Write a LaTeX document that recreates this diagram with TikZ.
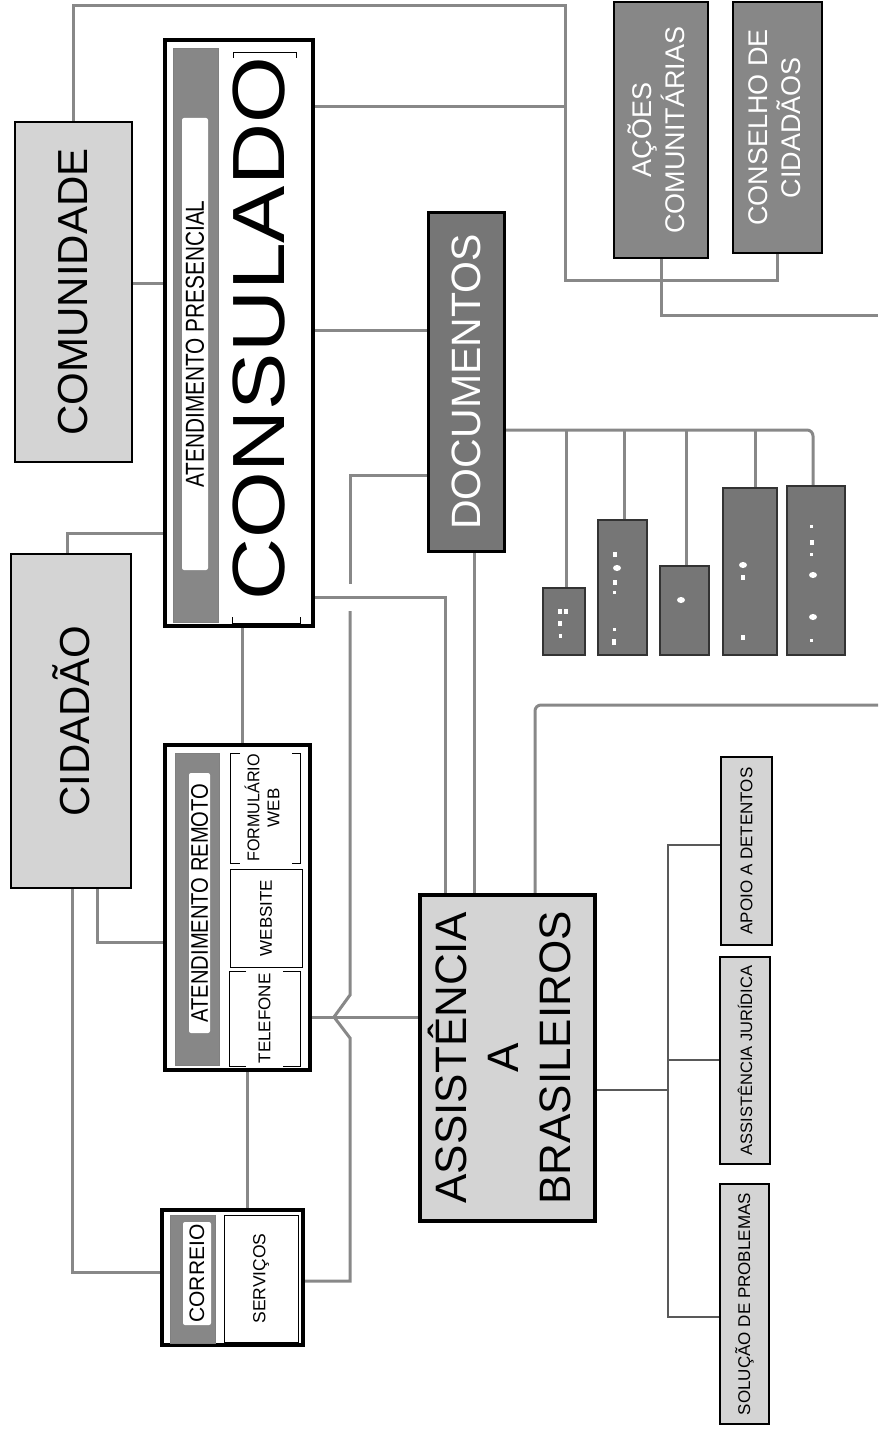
\documentclass[tikz,border=0pt]{standalone}
\usepackage{fontspec}
\setmainfont{Liberation Sans}
\pgfdeclarelayer{bg}
\pgfsetlayers{bg,main}
\definecolor{lightfill}{HTML}{D4D4D4}
\definecolor{darkfill}{HTML}{878787}
\definecolor{docfill}{HTML}{767676}
\definecolor{conncol}{HTML}{888888}
\newcommand{\fsz}[2]{\fontsize{#1}{#2}\selectfont}
\newcommand{\rtext}[1]{\rotatebox{90}{#1}}
\newcommand{\rtwo}[2]{\rotatebox{90}{\begin{tabular}{@{}c@{}}#1\\#2\end{tabular}}}
\begin{document}
\begin{tikzpicture}[x=1pt,y=-1pt,
  nbox/.style={anchor=north west, inner sep=0pt, outer sep=0pt, align=center},
  lightbox/.style={nbox, draw=black, line width=1.2pt, fill=lightfill},
  darkbox/.style={nbox, draw=black, line width=2pt, fill=darkfill, text=white},
  docbox/.style={nbox, draw=black!80, line width=1.2pt, fill=docfill},
  bigframe/.style={nbox, draw=black, line width=4.5pt, fill=white},
  stripbox/.style={nbox, fill=darkfill, draw=black!50, line width=0.6pt},
  whitebar/.style={nbox, fill=white, rounded corners=2pt},
  thinbox/.style={nbox, draw=black, line width=0.9pt, fill=white},
  conn/.style={draw=conncol, line width=3pt},
  thinconn/.style={draw=black!65, line width=2pt},
  brk/.style={draw=black, line width=0.9pt},
  spot/.style={fill=white}
]
\useasboundingbox (0,0) rectangle (878,1431);

% ---------- left column ----------
\node[lightbox, minimum width=117pt, minimum height=340pt] (comunidade) at (15,122)
  {\rtext{\fsz{42}{46}COMUNIDADE}};
\node[lightbox, minimum width=120pt, minimum height=334pt] (cidadao) at (11,554)
  {\rtext{\fsz{42}{46}CIDADÃO}};

% ---------- CONSULADO ----------
\node[bigframe, minimum width=148pt, minimum height=586pt] (consulado) at (165,40) {};
\node[stripbox, minimum width=45pt, minimum height=574pt] (constrip) at (173,48) {};
\node[whitebar, minimum width=26pt, minimum height=452pt] (presencial) at (182,118)
  {\rtext{\scalebox{0.8}[1]{\fsz{26}{28}ATENDIMENTO PRESENCIAL}}};
\node[inner sep=0pt] (constext) at (259,329)
  {\rtext{\scalebox{1.16}[1]{\fsz{74}{74}CONSULADO}}};
\draw[brk] (233,58) -- (233,52) -- (296,52) -- (296,58);
\draw[brk] (232,617) -- (232,623) -- (300,623) -- (300,617);

% ---------- ATENDIMENTO REMOTO ----------
\node[bigframe, minimum width=145pt, minimum height=325pt] (atrem) at (165,745) {};
\node[stripbox, minimum width=44pt, minimum height=312pt] (remstrip) at (175,753) {};
\node[whitebar, minimum width=21pt, minimum height=260pt] (remoto) at (189,773)
  {\rtext{\scalebox{0.84}[1]{\fsz{24}{26}ATENDIMENTO REMOTO}}};
\node[nbox, minimum width=70pt, minimum height=110pt] (formulario) at (230,753)
  {\fsz{17}{20}\rtwo{\scalebox{0.95}[1]{FORMULÁRIO}}{WEB}};
\draw[brk] (240,753) -- (230,753) -- (230,863) -- (240,863);
\draw[brk] (292,753) -- (300,753) -- (300,863) -- (292,863);
\node[thinbox, minimum width=72pt, minimum height=98pt] (website) at (230,869)
  {\rtext{\fsz{17}{20}WEBSITE}};
\node[nbox, minimum width=71pt, minimum height=95pt] (telefone) at (229,971)
  {\rtext{\fsz{17}{20}TELEFONE}};
\draw[brk] (246,971) -- (229,971) -- (229,1066) -- (246,1066);
\draw[brk] (283,971) -- (300,971) -- (300,1066) -- (283,1066);

% ---------- CORREIO ----------
\node[bigframe, minimum width=141pt, minimum height=135pt] (correio) at (162,1210) {};
\node[stripbox, minimum width=45pt, minimum height=128pt] (corstrip) at (170,1215) {};
\node[whitebar, minimum width=28pt, minimum height=103pt] (correiotxt) at (183,1222)
  {\rtext{\fsz{21}{24}CORREIO}};
\node[thinbox, minimum width=74pt, minimum height=127pt] (servicos) at (224,1215)
  {\rtext{\fsz{17.5}{20}SERVIÇOS}};

% ---------- DOCUMENTOS ----------
\node[nbox, draw=black, line width=3pt, fill=docfill, text=white,
  minimum width=76pt, minimum height=338pt] (documentos) at (428,213)
  {\rtext{\fsz{41}{44}DOCUMENTOS}};
\node[docbox, minimum width=42pt, minimum height=67pt] (d1) at (543,588) {};
\node[docbox, minimum width=49pt, minimum height=135pt] (d2) at (598,520) {};
\node[docbox, minimum width=49pt, minimum height=89pt] (d3) at (660,566) {};
\node[docbox, minimum width=54pt, minimum height=167pt] (d4) at (723,488) {};
\node[docbox, minimum width=58pt, minimum height=169pt] (d5) at (787,486) {};
% white marks inside the small boxes
\fill[spot] (558,609) rectangle ++(4,5);
\fill[spot] (564,609) rectangle ++(4,5);
\fill[spot] (558,621) rectangle ++(4,5);
\fill[spot] (559,634) rectangle ++(3,4);
\fill[spot] (613,552) rectangle ++(4,5);
\fill[spot] (617,568) ellipse (4 and 3);
\fill[spot] (613,580) rectangle ++(4,5);
\fill[spot] (613,591) rectangle ++(3,3);
\fill[spot] (613,628) rectangle ++(3,3);
\fill[spot] (612,639) rectangle ++(4,6);
\fill[spot] (681,600) ellipse (4 and 3);
\fill[spot] (743,565) ellipse (4 and 3);
\fill[spot] (741,575) rectangle ++(4,5);
\fill[spot] (741,635) rectangle ++(4,5);
\fill[spot] (810,525) rectangle ++(3,3);
\fill[spot] (810,540) rectangle ++(4,5);
\fill[spot] (810,553) rectangle ++(3,3);
\fill[spot] (813,575) ellipse (4 and 3);
\fill[spot] (813,617) ellipse (4 and 3);
\fill[spot] (810,639) rectangle ++(3,3);

% ---------- top right ----------
\node[darkbox, minimum width=94pt, minimum height=256pt] (acoes) at (614,2)
  {\fsz{27}{33}\rtwo{AÇÕES}{COMUNITÁRIAS}};
\node[darkbox, minimum width=89pt, minimum height=251pt] (conselho) at (733,2)
  {\fsz{27}{32}\rtwo{CONSELHO DE}{CIDADÃOS}};

% ---------- ASSISTENCIA ----------
\node[nbox, draw=black, line width=4.5pt, fill=lightfill,
  minimum width=175pt, minimum height=326pt] (assist) at (420,895)
  {\rotatebox{90}{\fsz{44}{52}\begin{tabular}{@{}c@{}}ASSISTÊNCIA\\A\\BRASILEIROS\end{tabular}}};
\node[lightbox, minimum width=51pt, minimum height=188pt] (apoio) at (721,757)
  {\rtext{\fsz{17}{20}APOIO A DETENTOS}};
\node[lightbox, minimum width=50pt, minimum height=207pt] (juridica) at (720,957)
  {\rtext{\fsz{16.5}{20}ASSISTÊNCIA JURÍDICA}};
\node[lightbox, minimum width=49pt, minimum height=240pt] (solucao) at (720,1184)
  {\rtext{\fsz{17}{20}SOLUÇÃO DE PROBLEMAS}};

% ---------- connectors ----------
\begin{pgfonlayer}{bg}
\draw[conn] (comunidade.north) |- (565,6) -- (565,280) -| (conselho.south);
\draw[conn] (consulado.east |- 0,107) -- (565,107);
\draw[conn] (acoes.south) |- (878,315);
\draw[conn] (comunidade.east |- 0,283) -- (consulado.west |- 0,283);
\draw[conn] (consulado.west |- 0,533) -| (cidadao.north -| 67,0);
\draw[conn] (consulado.east |- 0,330) -- (documentos.west |- 0,330);
\draw[conn] (consulado.east |- 0,597) -| (assist.north -| 445,0);
\draw[conn] (documentos.south -| 474,0) -- (assist.north -| 474,0);
\draw[conn] (documentos.west |- 0,475) -| (350,584);
\draw[conn] (350,611) -- (350,995) -- (334,1017) -- (350,1038) |- (correio.east |- 0,1281);
\draw[conn] (assist.west |- 0,1017) -- (atrem.east |- 0,1017);
\draw[conn, rounded corners=6pt] (assist.north -| 535,0) |- (878,705);
\draw[thinconn] (assist.east |- 0,1090) -- (668,1090);
\draw[thinconn] (apoio.west |- 0,845) -| (668,1317) -- (solucao.west |- 0,1317);
\draw[thinconn] (668,1060) -- (juridica.west |- 0,1060);
\draw[conn] (cidadao.south -| 72,0) |- (correio.west |- 0,1272);
\draw[conn] (cidadao.south -| 97,0) |- (atrem.west |- 0,942);
\draw[conn] (consulado.south -| 242,0) -- (atrem.north -| 242,0);
\draw[conn] (atrem.south -| 247,0) -- (correio.north -| 247,0);
\draw[conn, rounded corners=6pt] (documentos.east |- 0,430) -| (d5.north -| 813,0);
\foreach \n/\xx in {d1/566, d2/624, d3/686, d4/755}
  \draw[conn] (\n.north -| \xx,0) -- (\xx,430);
\end{pgfonlayer}
\end{tikzpicture}
\end{document}
